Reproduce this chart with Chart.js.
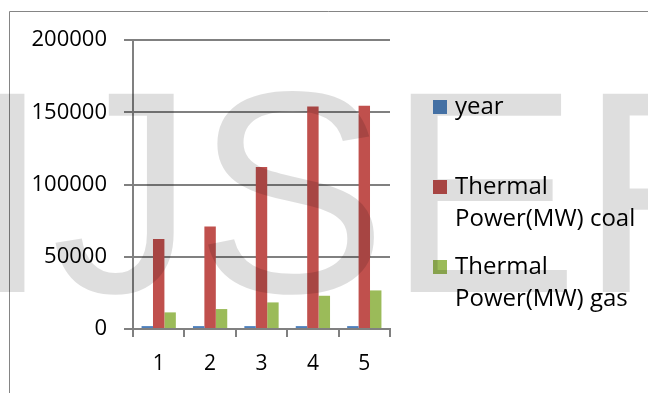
<!DOCTYPE html>
<html>
<head>
<meta charset="utf-8">
<script src="https://cdn.jsdelivr.net/npm/chart.js@4.4.1/dist/chart.umd.min.js"></script>
<style>
  html, body { margin: 0; padding: 0; background: #fff; overflow: hidden; }
  #wrap { position: relative; width: 648px; height: 393px; }
</style>
</head>
<body>
<div id="wrap"><canvas id="chart" width="648" height="393"></canvas></div>
<script>
// Categories and series
const categories = ['1', '2', '3', '4', '5'];
const yearValues = [2007, 2008, 2009, 2010, 2011];
const coalValues = [62300, 71000, 112100, 154000, 154500];
const gasValues = [11500, 13800, 18400, 23000, 26700];
const yTickValues = [0, 50000, 100000, 150000, 200000];
const seriesNames = ['year', 'Thermal Power(MW) coal', 'Thermal Power(MW) gas'];
const seriesColors = ['#4f81bd', '#c0504d', '#9bbb59'];
const watermarkText = 'IJSER';

const axisGray = '#808080';

// Outer frame of the chart object
const framePlugin = {
  id: 'frame',
  beforeDraw(chart) {
    const ctx = chart.ctx;
    ctx.save();
    ctx.strokeStyle = '#858585';
    ctx.lineWidth = 1;
    ctx.beginPath();
    ctx.moveTo(9.5, 393);
    ctx.lineTo(9.5, 11.5);
    ctx.lineTo(648, 11.5);
    ctx.stroke();
    ctx.restore();
  }
};

// Legend on the right with word-wrapped labels
const legendPlugin = {
  id: 'sideLegend',
  afterDraw(chart) {
    const ctx = chart.ctx;
    const boxX = 433, textX = 455, box = 14, firstTop = 100, step = 80, lineGap = 32, maxWidth = 186;
    ctx.save();
    ctx.font = '24px "Open Sans"';
    ctx.textBaseline = 'alphabetic';
    ctx.textAlign = 'left';
    chart.data.datasets.forEach((ds, i) => {
      const top = firstTop + i * step;
      ctx.fillStyle = ds.backgroundColor;
      ctx.fillRect(boxX, top, box, box);
      const words = ds.label.split(' ');
      const lines = [];
      let cur = '';
      words.forEach(w => {
        const test = cur ? cur + ' ' + w : w;
        if (cur && ctx.measureText(test).width > maxWidth) {
          lines.push(cur);
          cur = w;
        } else {
          cur = test;
        }
      });
      if (cur) lines.push(cur);
      ctx.fillStyle = '#000';
      lines.forEach((ln, j) => ctx.fillText(ln, textX, top + box + j * lineGap));
    });
    ctx.restore();
  }
};

// Translucent publisher mark laid over the whole drawing
const watermarkPlugin = {
  id: 'watermark',
  afterDraw(chart) {
    const ctx = chart.ctx;
    ctx.save();
    ctx.font = '288px "Liberation Sans", Arial, sans-serif';
    ctx.textBaseline = 'alphabetic';
    ctx.textAlign = 'left';
    ctx.fillStyle = 'rgba(0,0,0,0.13)';
    ctx.fillText(watermarkText, -29, 292);
    ctx.restore();
  }
};

new Chart(document.getElementById('chart'), {
  type: 'bar',
  data: {
    labels: categories,
    datasets: [
      { label: seriesNames[0], data: yearValues, backgroundColor: seriesColors[0] },
      { label: seriesNames[1], data: coalValues, backgroundColor: seriesColors[1] },
      { label: seriesNames[2], data: gasValues, backgroundColor: seriesColors[2] }
    ]
  },
  options: {
    responsive: false,
    animation: false,
    devicePixelRatio: 1,
    layout: { padding: { left: 0, top: 40, right: 258, bottom: 0 } },
    datasets: { bar: { categoryPercentage: 0.667, barPercentage: 1 } },
    plugins: { legend: { display: false }, tooltip: { enabled: false } },
    scales: {
      x: {
        grid: { offset: true, drawOnChartArea: false, drawTicks: true, tickLength: 8, color: axisGray, lineWidth: 2 },
        border: { color: axisGray, width: 2 },
        ticks: { color: '#000', font: { family: 'Open Sans', size: 21 }, padding: 14, maxRotation: 0 },
        afterFit(scale) { scale.height = 64; }
      },
      y: {
        min: 0,
        max: 200000,
        grid: { color: axisGray, lineWidth: 2, tickLength: 9 },
        border: { color: axisGray, width: 2 },
        ticks: {
          color: '#000',
          font: { family: 'Open Sans', size: 22 },
          padding: 17,
          callback: v => String(v)
        },
        afterBuildTicks(scale) { scale.ticks = yTickValues.map(v => ({ value: v })); },
        afterFit(scale) { scale.width = 133; }
      }
    }
  },
  plugins: [framePlugin, legendPlugin, watermarkPlugin]
});
</script>
</body>
</html>
